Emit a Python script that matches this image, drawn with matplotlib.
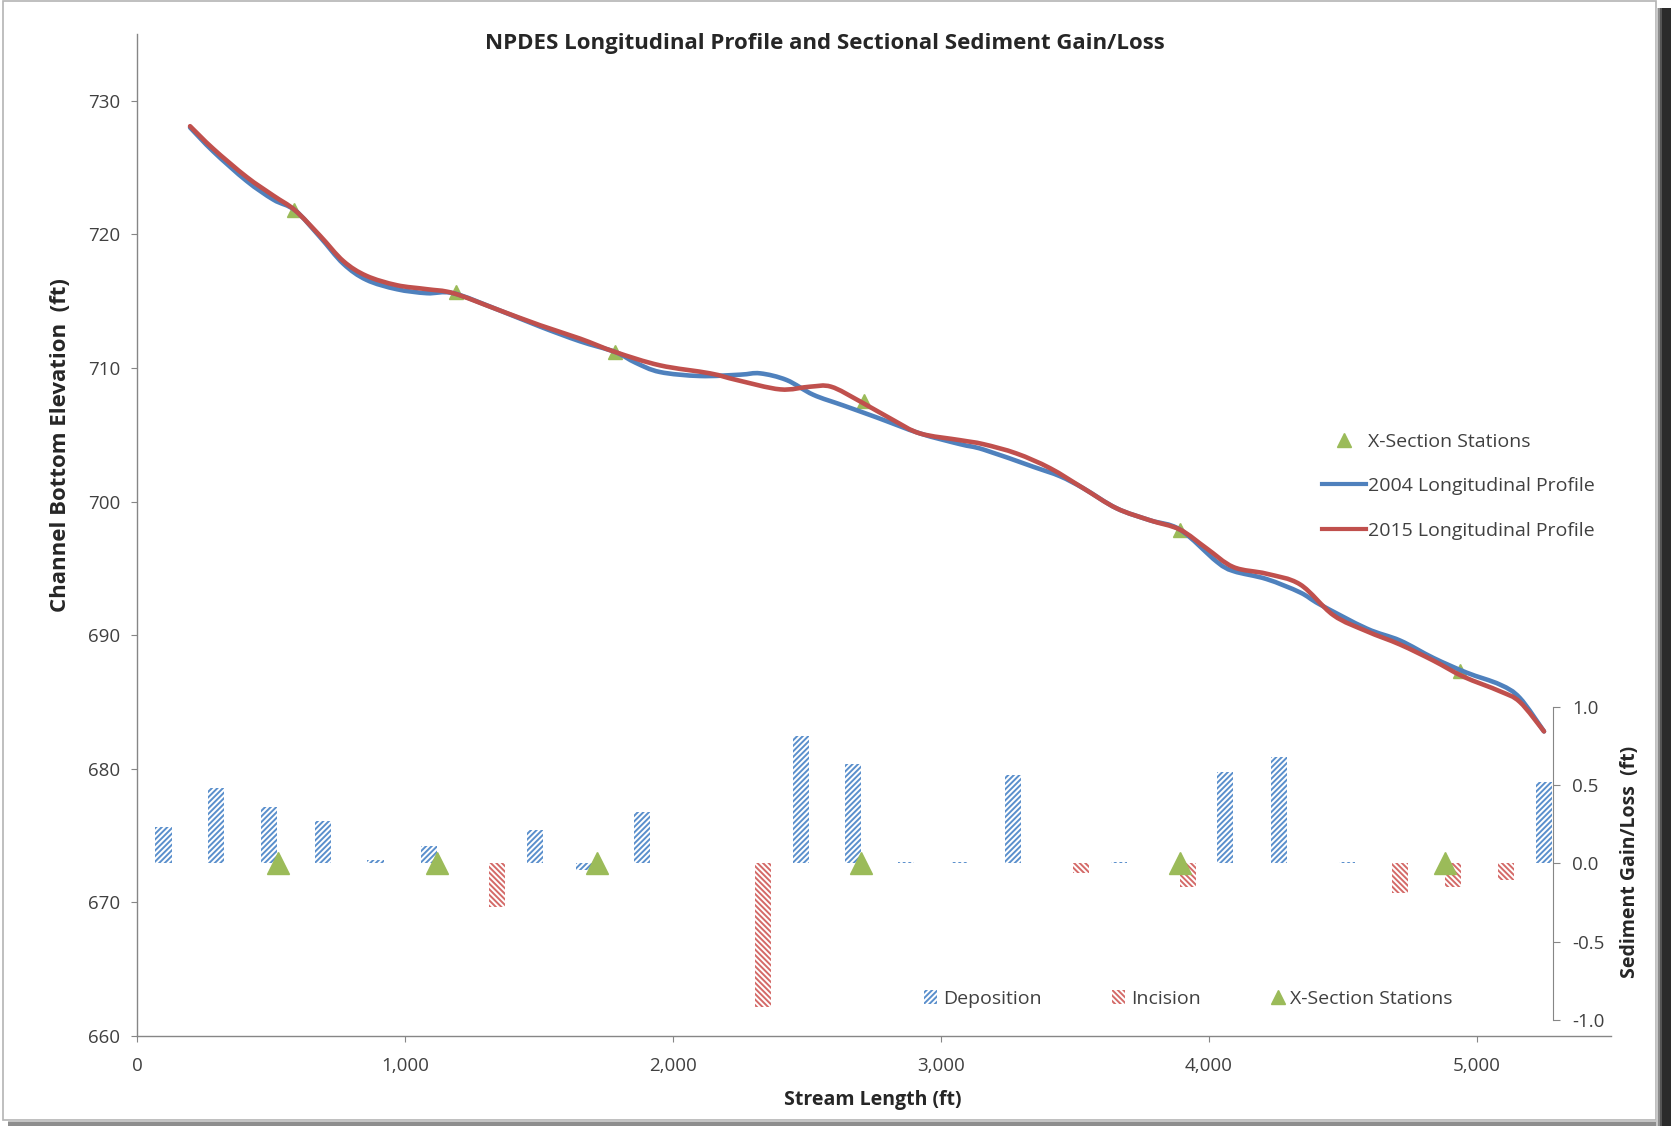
import numpy as np
import matplotlib.pyplot as plt
from matplotlib.path import Path
from matplotlib.patches import PathPatch, Rectangle, Patch
from matplotlib.lines import Line2D
from matplotlib.ticker import FuncFormatter

plt.rcParams['font.family'] = ['Open Sans', 'DejaVu Sans']
plt.rcParams['hatch.linewidth'] = 1.4
plt.rcParams['axes.unicode_minus'] = False

# 2004 longitudinal survey (stream length ft, bed elevation ft)
length_2004 = [198, 285, 409, 509, 590, 683, 770, 856, 969, 1081, 1180, 1342, 1504,
               1653, 1784, 1860, 1951, 2101, 2250, 2325, 2424, 2523, 2635, 2760,
               2922, 3071, 3158, 3345, 3444, 3531, 3655, 3780, 3892, 4029, 4091,
               4215, 4340, 4414, 4588, 4713, 4837, 4961, 5086, 5160, 5250]
elev_2004 = [728.0, 726.2, 724.0, 722.6, 721.8, 719.8, 717.8, 716.6, 715.9, 715.6,
             715.6, 714.4, 713.1, 712.0, 711.2, 710.4, 709.7, 709.4, 709.5, 709.6,
             709.1, 708.0, 707.2, 706.3, 705.1, 704.3, 703.9, 702.6, 701.9, 701.0,
             699.5, 698.6, 697.9, 695.5, 694.8, 694.2, 693.2, 692.3, 690.5, 689.6,
             688.3, 687.2, 686.3, 685.3, 682.8]

# 2015 longitudinal survey
length_2015 = [198, 285, 409, 509, 590, 683, 770, 856, 969, 1081, 1180, 1342, 1504,
               1653, 1784, 1951, 2138, 2238, 2400, 2511, 2590, 2698, 2822, 2922,
               3071, 3158, 3282, 3407, 3531, 3655, 3780, 3892, 3991, 4091, 4215,
               4340, 4464, 4588, 4713, 4837, 4949, 5086, 5160, 5250]
elev_2015 = [728.1, 726.4, 724.3, 722.9, 721.8, 719.9, 718.0, 716.9, 716.2, 715.9,
             715.6, 714.4, 713.2, 712.2, 711.2, 710.2, 709.6, 709.1, 708.4, 708.6,
             708.6, 707.5, 706.1, 705.1, 704.6, 704.3, 703.6, 702.5, 701.0, 699.5,
             698.6, 697.9, 696.5, 695.1, 694.6, 693.8, 691.5, 690.3, 689.3, 688.1,
             686.9, 685.8, 685.0, 682.8]

# cross-section stations on the profile
station_length = [584, 1192, 1785, 2711, 3891, 4936]
station_elev = [721.8, 715.7, 711.2, 707.5, 697.9, 687.3]

# stations and sectional change on the gain/loss panel
gain_station_length = [526, 1121, 1715, 2701, 3891, 4880]
gain_station_value = [0, 0, 0, 0, 0, 0]

deposition_length = [99, 295, 494, 693, 890, 1088, 1486, 1668, 1883, 2479, 2673,
                     2871, 3071, 3269, 3663, 4060, 4262, 4516, 5250]
deposition_ft = [0.23, 0.48, 0.36, 0.27, 0.02, 0.11, 0.21, -0.04, 0.33, 0.81, 0.63,
                 0.01, 0.01, 0.56, 0.01, 0.58, 0.68, 0.01, 0.52]
incision_length = [1344, 2337, 3523, 3920, 4714, 4910, 5109]
incision_ft = [-0.28, -0.92, -0.06, -0.15, -0.19, -0.15, -0.11]

BLUE = '#4F81BD'
RED = '#C0504D'
GREEN = '#9BBB59'
DEP_HATCH = '#5A8FCC'
INC_HATCH = '#D46A68'
AXIS_GREY = '#868686'
TEXT = '#404040'
LABEL = '#262626'

W, H = 1671, 1126


def fx(x):
    return x / W


def fy(y):
    return 1 - y / H


def smooth_path(x, y):
    # Catmull-Rom through the survey points, drawn as cubic Bezier pieces
    x = np.asarray(x, float)
    y = np.asarray(y, float)
    pts = np.column_stack([x, y])
    ext = np.vstack([pts[0], pts, pts[-1]])
    verts = [pts[0]]
    codes = [Path.MOVETO]
    for i in range(len(pts) - 1):
        p0, p1, p2, p3 = ext[i], ext[i + 1], ext[i + 2], ext[i + 3]
        verts += [p1 + (p2 - p0) / 6, p2 - (p3 - p1) / 6, p2]
        codes += [Path.CURVE4] * 3
    return Path(verts, codes)


fig = plt.figure(figsize=(W / 100, H / 100), dpi=100)

# profile axes
ax = fig.add_axes([fx(137), fy(1036), fx(1611 - 137), (1036 - 34) / H])
ax.set_xlim(0, 5500)
ax.set_ylim(660, 735)
ax.set_yticks(range(660, 731, 10))
ax.set_xticks(range(0, 5001, 1000))
ax.xaxis.set_major_formatter(FuncFormatter(lambda v, p: f'{int(v):,}'))
for s in ['top', 'right']:
    ax.spines[s].set_visible(False)
for s in ['left', 'bottom']:
    ax.spines[s].set_color(AXIS_GREY)
    ax.spines[s].set_linewidth(1.0)
ax.tick_params(axis='both', direction='out', length=4, color=AXIS_GREY,
               labelsize=13.5, labelcolor=TEXT)
ax.tick_params(axis='y', pad=8)
ax.tick_params(axis='x', pad=11)

ax.plot(station_length, station_elev, linestyle='none', marker='^', ms=10,
        color=GREEN, zorder=2)
ax.add_patch(PathPatch(smooth_path(length_2004, elev_2004), facecolor='none',
                       edgecolor=BLUE, lw=3.3, capstyle='round', zorder=3))
ax.add_patch(PathPatch(smooth_path(length_2015, elev_2015), facecolor='none',
                       edgecolor=RED, lw=3.3, capstyle='round', zorder=4))

prof_handles = [
    Line2D([], [], linestyle='none', marker='^', ms=10, color=GREEN),
    Line2D([], [], color=BLUE, lw=3),
    Line2D([], [], color=RED, lw=3),
]
prof_labels = ['X-Section Stations', '2004 Longitudinal Profile',
               '2015 Longitudinal Profile']
fig.legend(prof_handles, prof_labels, loc='upper left',
           bbox_to_anchor=(fx(1312), fy(423)), frameon=False, fontsize=14,
           handlelength=2.3, handletextpad=0.1, labelspacing=1.36,
           labelcolor=TEXT, borderpad=0)

# sediment gain/loss axes, overlaid on the lower part of the plot
gain_right = 5500 * (1553 - 137) / (1611 - 137)
ax2 = fig.add_axes([fx(137), fy(1020), fx(1553 - 137), (1020 - 706.5) / H])
ax2.patch.set_visible(False)
ax2.set_xlim(0, gain_right)
ax2.set_ylim(-1, 1)
ax2.set_yticks([-1, -0.5, 0, 0.5, 1])
ax2.yaxis.set_major_formatter(FuncFormatter(lambda v, p: f'{v:.1f}'))
ax2.yaxis.tick_right()
for s in ['top', 'left', 'bottom']:
    ax2.spines[s].set_visible(False)
ax2.spines['right'].set_color(AXIS_GREY)
ax2.set_xticks([])
ax2.tick_params(axis='y', direction='out', length=5, color=AXIS_GREY,
                labelsize=13.5, labelcolor=TEXT, pad=9)

ax2.bar(deposition_length, deposition_ft, width=60, facecolor='white',
        edgecolor=DEP_HATCH, hatch='//////', lw=0, zorder=2)
ax2.bar(incision_length, incision_ft, width=60, facecolor='white',
        edgecolor=INC_HATCH, hatch='\\\\\\\\\\\\', lw=0, zorder=2)
ax2.plot(gain_station_length, gain_station_value, linestyle='none', marker='^',
         ms=16, color=GREEN, zorder=3)

gain_handles = [
    Patch(facecolor='white', edgecolor=DEP_HATCH, hatch='//////', lw=0),
    Patch(facecolor='white', edgecolor=INC_HATCH, hatch='\\\\\\\\\\\\', lw=0),
    Line2D([], [], linestyle='none', marker='^', ms=10, color=GREEN),
]
fig.legend(gain_handles, ['Deposition', 'Incision', 'X-Section Stations'],
           loc='center left', bbox_to_anchor=(fx(914), fy(999)), ncol=3,
           frameon=False, fontsize=14, handlelength=0.7, handleheight=0.7,
           handletextpad=0.3, columnspacing=3.6, labelcolor=TEXT, borderpad=0)

# titles and axis labels
fig.text(fx(825), fy(43), 'NPDES Longitudinal Profile and Sectional Sediment Gain/Loss',
         ha='center', va='center', fontsize=16, fontweight='bold', color=LABEL)
fig.text(fx(61), fy(445), 'Channel Bottom Elevation  (ft)', rotation=90,
         ha='center', va='center', fontsize=16, fontweight='bold', color=LABEL)
fig.text(fx(873), fy(1100), 'Stream Length (ft)', ha='center', va='center',
         fontsize=14, fontweight='bold', color=LABEL)
fig.text(fx(1630), fy(862), 'Sediment Gain/Loss  (ft)', rotation=90,
         ha='center', va='center', fontsize=14, fontweight='bold', color=LABEL)

# chart frame with drop shadow
fig.add_artist(Rectangle((fx(3), fy(1120)), fx(1656 - 3), (1120 - 1) / H,
                         transform=fig.transFigure, facecolor='none',
                         edgecolor='#b4b4b4', lw=1.2))
for x0, x1, c in [(1656, 1658, '#c8c8c8'), (1658, 1660, '#8c8c8c'),
                  (1660, 1662, '#555555'), (1662, 1671, '#2b2b2b')]:
    fig.add_artist(Rectangle((fx(x0), fy(1126)), fx(x1 - x0), (1126 - 8) / H,
                             transform=fig.transFigure, facecolor=c, lw=0))
for y0, y1, c in [(1120, 1122, '#c4c4c4'), (1122, 1126, '#8e8e8e')]:
    fig.add_artist(Rectangle((fx(8), fy(y1)), fx(1656 - 8), (y1 - y0) / H,
                             transform=fig.transFigure, facecolor=c, lw=0))

fig.savefig('out.png', dpi=100, facecolor='white')
